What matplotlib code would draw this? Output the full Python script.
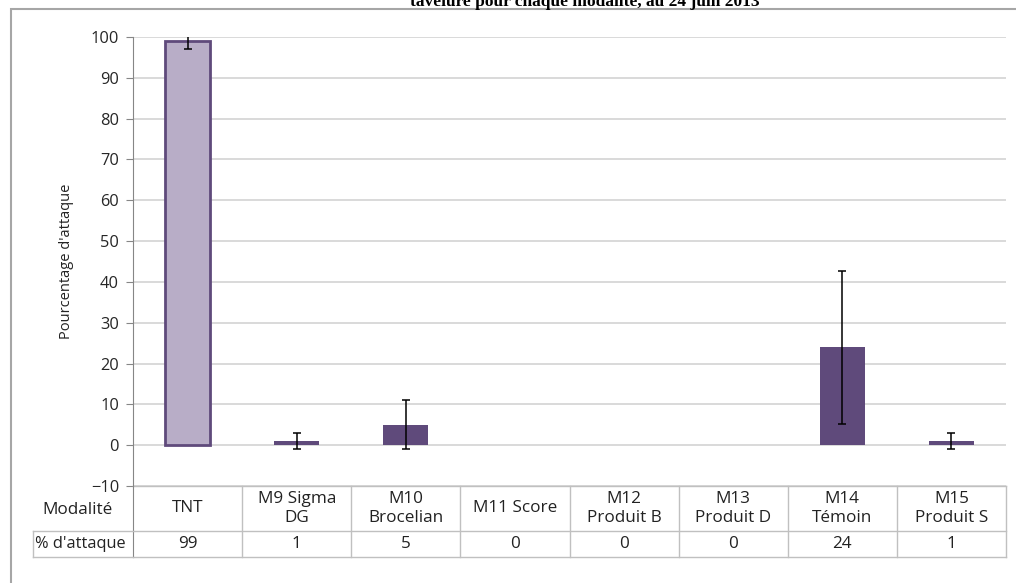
import matplotlib.pyplot as plt
from matplotlib.patches import Rectangle
from matplotlib.transforms import blended_transform_factory

# values
modalites = ["TNT", "M9 Sigma\nDG", "M10\nBrocelian", "M11 Score", "M12\nProduit B",
             "M13\nProduit D", "M14\nTémoin", "M15\nProduit S"]
attaque = [99, 1, 5, 0, 0, 0, 24, 1]
erreur = [2, 2, 6, 0, 0, 0, 18.7, 2]
yticks = list(range(-10, 101, 10))

W, H = 1016, 583
plt.rcParams['font.family'] = ['Open Sans', 'DejaVu Sans']

fig = plt.figure(figsize=(W / 100, H / 100), dpi=100)
ax = fig.add_axes([133 / W, 1 - 486 / H, (1006 - 133) / W, (486 - 37) / H])

dark = '#5f4a7b'
light = '#b8adc7'
x = list(range(len(attaque)))
colors = [light] + [dark] * (len(attaque) - 1)
edges = [dark] + ['none'] * (len(attaque) - 1)
lws = [2.0] + [0] * (len(attaque) - 1)
ax.bar(x, attaque, width=0.41, color=colors, edgecolor=edges, linewidth=lws, zorder=3)
for xi, v, e in zip(x, attaque, erreur):
    if e > 0:
        ax.errorbar(xi, v, yerr=e, fmt='none', ecolor='black', elinewidth=1.1,
                    capsize=2.6, capthick=1.1, zorder=4)

ax.set_xlim(-0.5, len(attaque) - 0.5)
ax.set_ylim(-10, 100)
ax.set_yticks(yticks)
ax.tick_params(axis='y', length=5, width=0.8, color='#868686', labelsize=11.8,
               labelcolor='#262626', pad=5)
ax.set_xticks([])
ax.yaxis.grid(True, color='#d9d9d9', linewidth=1.4, zorder=0)
ax.set_axisbelow(True)
for s in ['top', 'right', 'bottom']:
    ax.spines[s].set_visible(False)
ax.spines['left'].set_color('#868686')
ax.spines['left'].set_linewidth(0.8)
ax.set_ylabel("Pourcentage d'attaque", fontsize=10.5, color='#222222', labelpad=12)

# data table under the chart
tr = blended_transform_factory(ax.transData, fig.transFigure)
y_top = 1 - 486 / H
y_mid = 1 - 531 / H
y_bot = 1 - 557 / H
lc = '#c0c0c0'
fs = 12.3
ax.plot([-0.5, 7.5], [y_top, y_top], color=lc, lw=1, transform=tr, clip_on=False)
ax.plot([-0.5, 7.5], [y_bot, y_bot], color=lc, lw=1, transform=tr, clip_on=False)
fig.add_artist(plt.Line2D([33 / W, 133 / W], [y_mid, y_mid], color=lc, lw=1))
fig.add_artist(plt.Line2D([33 / W, 133 / W], [y_bot, y_bot], color=lc, lw=1))
fig.add_artist(plt.Line2D([33 / W, 33 / W], [y_bot, y_mid], color=lc, lw=1))
ax.plot([-0.5, 7.5], [y_mid, y_mid], color=lc, lw=1, transform=tr, clip_on=False)
for i in range(len(attaque) + 1):
    c = '#868686' if i == 0 else lc
    ax.plot([i - 0.5, i - 0.5], [y_bot, y_top], color=c, lw=1 if i else 0.8,
            transform=tr, clip_on=False)
for xi, lab, v in zip(x, modalites, attaque):
    ax.text(xi, (y_top + y_mid) / 2, lab, transform=tr, ha='center', va='center',
            fontsize=fs, color='#222222', linespacing=1.25)
    ax.text(xi, (y_mid + y_bot) / 2, str(v), transform=tr, ha='center', va='center',
            fontsize=fs, color='#222222')
fig.text(77 / W, (y_top + y_mid) / 2 - 0.002, "Modalité", ha='center', va='center',
         fontsize=fs, color='#222222')
fig.text(35 / W, (y_mid + y_bot) / 2, "% d'attaque", ha='left', va='center',
         fontsize=11.8, color='#222222')

# outer frame and clipped title
fig.add_artist(Rectangle((11 / W, -0.1), 1.2, 1 - 9 / H + 0.1, transform=fig.transFigure,
                         fill=False, edgecolor='#a6a6a6', linewidth=1.5))
fig.text(585 / W, 1 - 6 / H, "tavelure pour chaque modalité, au 24 juin 2013",
         ha='center', va='baseline', fontsize=12.5, family=['Liberation Serif'],
         fontweight='bold', color='black')

fig.savefig('out.png', dpi=100)
